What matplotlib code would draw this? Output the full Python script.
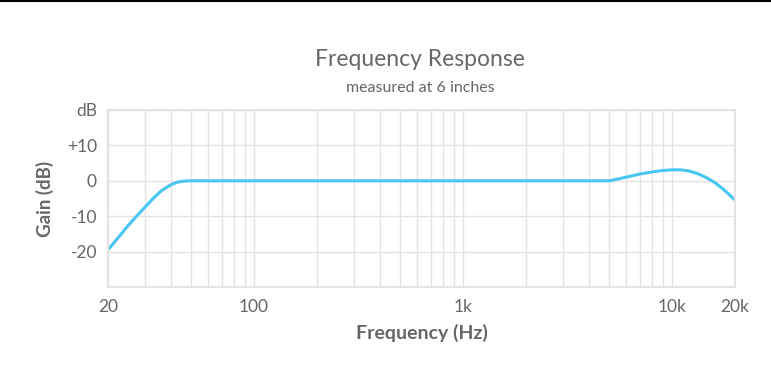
import matplotlib.pyplot as plt
from matplotlib.lines import Line2D
import numpy as np

# values
freq_hz = [20, 22, 25, 28, 30, 33, 36, 40, 43, 46, 50, 60, 100, 1000,
           4500, 5000, 5500, 6000, 7000, 8000, 9000, 10000, 11000,
           12000, 13000, 14000, 15000, 16000, 17000, 18000, 19000, 20000]
gain_db = [-19.5, -16.6, -12.6, -9.4, -7.5, -4.9, -2.8, -1.1, -0.4, -0.1, 0.0, 0.0, 0.0, 0.0,
           0.0, 0.0, 0.5, 1.0, 1.9, 2.5, 2.9, 3.1, 3.1,
           2.8, 2.2, 1.4, 0.5, -0.5, -1.7, -2.9, -4.2, -5.5]

xtick_vals = [20, 100, 1000, 10000, 20000]
xtick_text = ['20', '100', '1k', '10k', '20k']
ytick_vals = [-20, -10, 0, 10, 20]
ytick_text = ['-20', '-10', '0', '+10', 'dB']

plt.rcParams['font.family'] = ['Lato', 'DejaVu Sans']
txt = '#666666'
grid = '#e3e3e3'

fig = plt.figure(figsize=(7.71, 3.75), dpi=100)
ax = fig.add_axes([108 / 771, 1 - 287 / 375, 627 / 771, 177 / 375])

ax.plot(freq_hz, gain_db, color='#48c6f2', lw=2.2, solid_capstyle='round')

ax.set_xscale('log')
ax.set_xlim(20, 20000)
ax.set_ylim(-30, 20)

ax.set_xticks(xtick_vals)
ax.set_xticklabels(xtick_text)
minor = [m * d for d in (10, 100, 1000) for m in range(2, 10)]
ax.set_xticks([v for v in minor if 20 < v < 20000 and v not in xtick_vals], minor=True)
ax.set_yticks(ytick_vals)
ax.set_yticklabels(ytick_text)

ax.grid(True, which='both', axis='x', color=grid, lw=1)
ax.grid(True, which='major', axis='y', color=grid, lw=1)
ax.tick_params(which='both', length=0, colors=txt, labelsize=12.5)
ax.tick_params(axis='x', pad=9)
ax.tick_params(axis='y', pad=8)
for s in ax.spines.values():
    s.set_color(grid)
    s.set_linewidth(1.5)

ax.set_ylabel('Gain (dB)', color=txt, fontsize=13.5, fontweight='bold', labelpad=9)
ax.set_xlabel('Frequency (Hz)', color=txt, fontsize=14, fontweight='bold', labelpad=6)

fig.text(420 / 771, 1 - 60 / 375, 'Frequency Response', ha='center', va='center',
         color=txt, fontsize=16.5)
fig.text(420 / 771, 1 - 88 / 375, 'measured at 6 inches', ha='center', va='center',
         color=txt, fontsize=11.5)

fig.add_artist(Line2D([0, 1], [1 - 1 / 375, 1 - 1 / 375], color='black', lw=1.5))

fig.savefig('out.png', dpi=100)
